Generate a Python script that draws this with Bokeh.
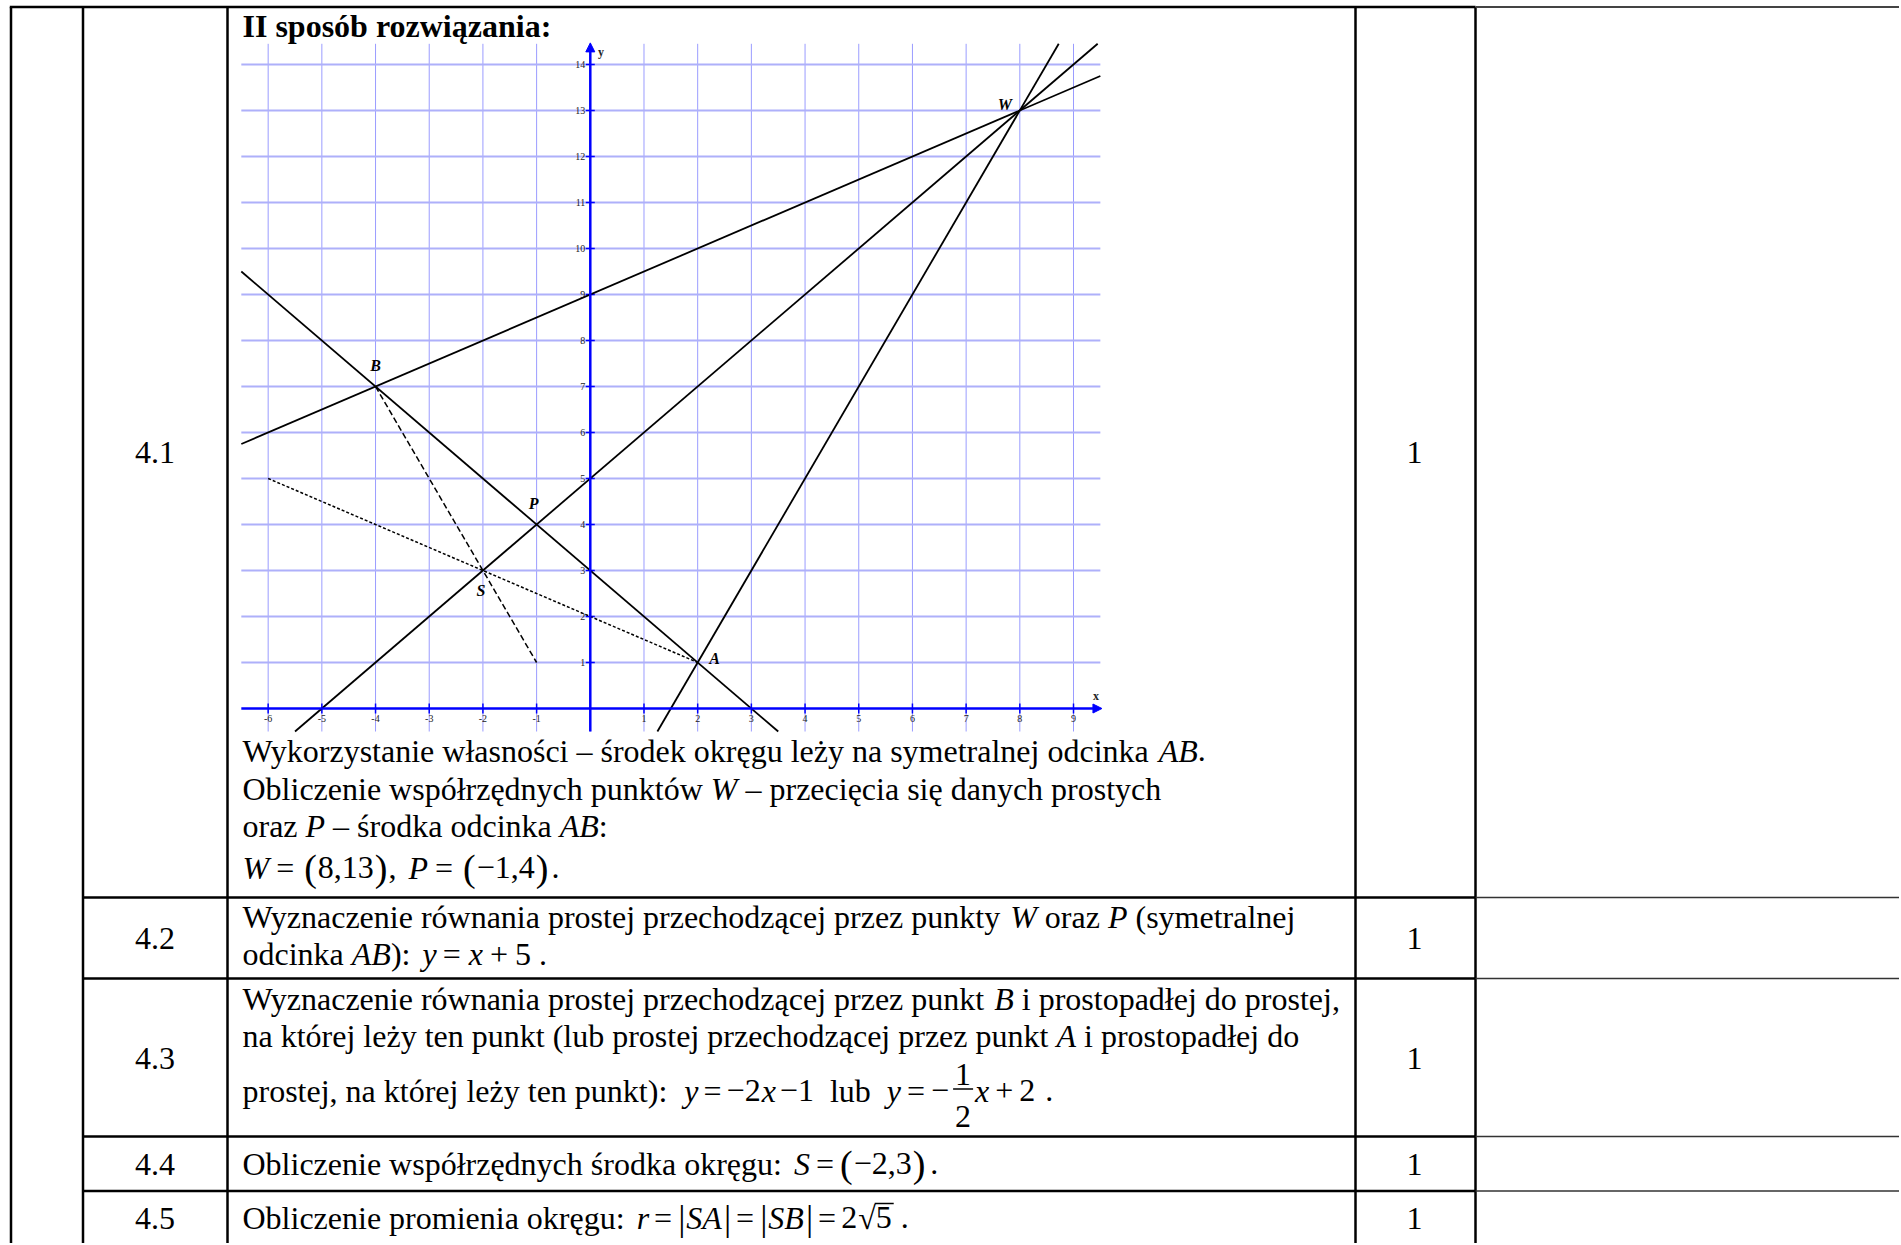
from bokeh.plotting import figure
from bokeh.models import Range1d, ColumnDataSource, Arrow, NormalHead
from bokeh.core.properties import value
from bokeh.embed import file_html
from bokeh.resources import INLINE
import math

# ---------------- chart data ----------------
grid_x = [-6, -5, -4, -3, -2, -1, 0, 1, 2, 3, 4, 5, 6, 7, 8, 9]
grid_y = [1, 2, 3, 4, 5, 6, 7, 8, 9, 10, 11, 12, 13, 14]
x_tick_values = [-6, -5, -4, -3, -2, -1, 1, 2, 3, 4, 5, 6, 7, 8, 9]
x_tick_labels = ["-6", "-5", "-4", "-3", "-2", "-1", "1", "2", "3", "4", "5", "6", "7", "8", "9"]
y_tick_values = [1, 2, 3, 4, 5, 6, 7, 8, 9, 10, 11, 12, 13, 14]
y_tick_labels = ["1", "2", "3", "4", "5", "6", "7", "8", "9", "10", "11", "12", "13", "14"]
point_names = ["A", "B", "P", "S", "W"]
point_x = [2, -4, -1, -2, 8]
point_y = [1, 7, 4, 3, 13]
line_slope = [0.5, 1.0, 2.0, -1.0]
line_intercept = [9.0, 5.0, -3.0, 3.0]
dashed_x = [-4, -1]
dashed_y = [7, 1]
dotted_x = [-6, 2]
dotted_y = [5, 1]
X_LIM = (-6.5, 9.5)
Y_LIM = (-0.5, 14.45)

# table content
row_ids = ["4.1", "4.2", "4.3", "4.4", "4.5"]
row_points = ["1", "1", "1", "1", "1"]

# ---------------- layout constants (page pixels) ----------------
W, H = 1899, 1243
PX0, PY0 = 0, 0
ORIGIN = (589.8, 708.0)
UNIT = (53.69, 46.0)
FONT = "Liberation Serif"
FS = 32
TEXT_SHIFT = -10

p = figure(width=W, height=H, x_range=Range1d(PX0, PX0 + W), y_range=Range1d(PY0 + H, PY0),
           x_axis_type=None, y_axis_type=None, toolbar_location=None, output_backend="svg",
           min_border=0, outline_line_color=None, title=None,
           background_fill_color="white", border_fill_color="white")
p.extra_x_ranges = {"m": Range1d((PX0 - ORIGIN[0]) / UNIT[0], (PX0 + W - ORIGIN[0]) / UNIT[0])}
p.extra_y_ranges = {"m": Range1d((ORIGIN[1] - (PY0 + H)) / UNIT[1], (ORIGIN[1] - PY0) / UNIT[1])}
M = dict(x_range_name="m", y_range_name="m")

# ---------------- chart ----------------
p.segment(x0=grid_x, y0=[Y_LIM[0]] * len(grid_x), x1=grid_x, y1=[Y_LIM[1]] * len(grid_x),
          line_color="#9a9cff", line_width=1, **M)
p.segment(x0=[X_LIM[0]] * len(grid_y), y0=grid_y, x1=[X_LIM[1]] * len(grid_y), y1=grid_y,
          line_color="#aeb0fa", line_width=2, **M)

p.add_layout(Arrow(end=NormalHead(size=9, fill_color="blue", line_color="blue"),
                   x_start=X_LIM[0], y_start=0, x_end=X_LIM[1] + 0.03, y_end=0,
                   line_color="blue", line_width=2.5, **M))
p.add_layout(Arrow(end=NormalHead(size=9, fill_color="blue", line_color="blue"),
                   x_start=0, y_start=Y_LIM[0], x_end=0, y_end=Y_LIM[1] + 0.02,
                   line_color="blue", line_width=2.5, **M))
p.scatter(x=x_tick_values, y=[0] * len(x_tick_values), marker="dash", size=10, angle=math.pi / 2,
          line_color="blue", line_width=1.5, **M)
p.scatter(x=[0] * len(y_tick_values), y=y_tick_values, marker="dash", size=9,
          line_color="blue", line_width=1.5, **M)
p.text(x=x_tick_values, y=[0] * len(x_tick_values), text=x_tick_labels, y_offset=10,
       text_align="center", text_baseline="middle", text_font=value(FONT),
       text_font_size="10px", text_color="#222222", **M)
p.text(x=[0] * len(y_tick_values), y=y_tick_values, text=y_tick_labels, x_offset=-5,
       text_align="right", text_baseline="middle", text_font=value(FONT),
       text_font_size="10px", text_color="#222222", **M)
p.text(x=[9.42, 0.2], y=[0.27, 14.27], text=["x", "y"], text_align="center",
       text_baseline="middle", text_font=value(FONT), text_font_size="12px",
       text_font_style="bold", text_color="#222222", **M)


def clip(m, c):
    xa, xb = (Y_LIM[0] - c) / m, (Y_LIM[1] - c) / m
    lo = max(X_LIM[0], min(xa, xb))
    hi = min(X_LIM[1], max(xa, xb))
    return lo, hi


x0s, y0s, x1s, y1s = [], [], [], []
for m, c in zip(line_slope, line_intercept):
    lo, hi = clip(m, c)
    x0s.append(lo); y0s.append(m * lo + c); x1s.append(hi); y1s.append(m * hi + c)
p.segment(x0=x0s, y0=y0s, x1=x1s, y1=y1s, line_color="black", line_width=1.8, **M)
p.line(x=dashed_x, y=dashed_y, line_color="black", line_width=1.5, line_dash="6 3", **M)
p.line(x=dotted_x, y=dotted_y, line_color="black", line_width=1.5, line_dash="3 2", **M)

label_dx = [17, 0, -3, -2, -15]
label_dy = [-4, -21, -21, 20, -6]
p.text(x=point_x, y=point_y, text=point_names, x_offset=label_dx, y_offset=label_dy,
       text_align="center", text_baseline="middle", text_font=value(FONT),
       text_font_size="16px", text_font_style="bold italic", text_color="black", **M)

# ---------------- table ----------------
BLACK_W = 2.5
vx = [10.5, 82.5, 227, 1355, 1475]
TOP = 6.5
BOTTOM = PY0 + H
p.segment(x0=vx, y0=[TOP] * len(vx), x1=vx, y1=[BOTTOM] * len(vx), line_color="black", line_width=BLACK_W)
p.segment(x0=[9.3], y0=[TOP], x1=[1475], y1=[TOP], line_color="black", line_width=BLACK_W)
p.segment(x0=[1475], y0=[TOP], x1=[PX0 + W], y1=[TOP], line_color="#444444", line_width=2)
hy = [897, 978, 1136, 1190.5]
p.segment(x0=[82.5] * 4, y0=hy, x1=[1475] * 4, y1=hy, line_color="black", line_width=BLACK_W)
p.segment(x0=[1475] * 4, y0=hy, x1=[PX0 + W] * 4, y1=hy, line_color="#333333", line_width=1.6)

# font metrics (Times-compatible, per 1000 em)
ROMAN = {' ': 250, 'a': 444, 'b': 500, 'c': 444, 'd': 500, 'e': 444, 'f': 333, 'g': 500, 'h': 500,
         'i': 278, 'j': 278, 'k': 500, 'l': 278, 'm': 778, 'n': 500, 'o': 500, 'p': 500, 'q': 500,
         'r': 333, 's': 389, 't': 278, 'u': 500, 'v': 500, 'w': 722, 'x': 500, 'y': 500, 'z': 444,
         'ą': 444, 'ć': 444, 'ę': 444, 'ł': 278, 'ń': 500, 'ó': 500, 'ś': 389, 'ź': 444, 'ż': 444,
         'O': 722, 'W': 944, 'S': 556, 'P': 556, 'A': 722, 'B': 667, '.': 250, ',': 250, ':': 278,
         '(': 333, ')': 333, '–': 500, '−': 564, '=': 564, '+': 564, '|': 200, '√': 549}
ITALIC = {'A': 611, 'B': 611, 'P': 611, 'W': 833, 'S': 500, 'r': 389, 'x': 444, 'y': 444}
BOLD = {'I': 389, ' ': 250, 's': 389, 'p': 556, 'o': 500, 'ó': 500, 'b': 556, 'r': 444, 'z': 444,
        'w': 722, 'i': 278, 'ą': 500, 'a': 500, 'n': 556, ':': 333}


def tw(s, style="normal", size=FS):
    tab = ROMAN if style == "normal" else (ITALIC if style == "italic" else BOLD)
    return sum(tab.get(ch, ROMAN.get(ch, 500)) for ch in s) * size / 1000.0


T = dict(x=[], y=[], text=[], style=[], size=[])
bars = dict(x0=[], y0=[], x1=[], y1=[])


def add(x, y, s, style="normal", size=FS):
    T["x"].append(x); T["y"].append(y + TEXT_SHIFT); T["text"].append(s)
    T["style"].append(style); T["size"].append(f"{size}px")


def lay(runs, x0, y):
    x = x0
    for r in runs:
        if r[0] == "FRAC":
            _, num, den, gap = r
            x += gap
            wn, wd = tw(num), tw(den)
            w = max(wn, wd) + 4
            add(x + (w - wn) / 2, y - 16, num)
            add(x + (w - wd) / 2, y + 26, den)
            bars["x0"].append(x); bars["x1"].append(x + w)
            bars["y0"].append(y - 11.5); bars["y1"].append(y - 11.5)
            x += w
        elif r[0] == "SQRT":
            _, rad, gap = r
            x += gap
            add(x, y, "√")
            x += tw("√")
            add(x, y, rad)
            wr = tw(rad)
            bars["x0"].append(x - 1); bars["x1"].append(x + wr + 2)
            bars["y0"].append(y - 24); bars["y1"].append(y - 24)
            x += wr
        else:
            text, style = r[0], r[1]
            gap = r[2] if len(r) > 2 else 0
            size = r[3] if len(r) > 3 else FS
            x += gap
            stripped = text.lstrip(" ")
            lead = len(text) - len(stripped)
            x += tw(" " * lead, "normal", size)
            add(x, y, stripped.rstrip(" "), style, size)
            x += tw(stripped, style, size)


R, I = "normal", "italic"
XT = 242
lay([("II sposób rozwiązania:", "bold")], XT, 35)

lines = [
    (760, [("Wykorzystanie własności – środek okręgu leży na symetralnej odcinka ", R), ("AB", I), (".", R)]),
    (798, [("Obliczenie współrzędnych punktów ", R), ("W", I), (" – przecięcia się danych prostych", R)]),
    (835, [("oraz ", R), ("P", I), (" – środka odcinka ", R), ("AB", I), (":", R)]),
    (877, [("W", I), ("=", R, 7), ("(", R, 10, 38), ("8,13", R, 1), (")", R, 1, 38), (",", R, 1),
           ("P", I, 12), ("=", R, 7), ("(", R, 10, 38), ("−1,4", R, 1), (")", R, 1, 38), (".", R, 3)]),
    (926, [("Wyznaczenie równania prostej przechodzącej przez punkty ", R), ("W", I), (" oraz ", R),
           ("P", I), (" (symetralnej", R)]),
    (963.5, [("odcinka ", R), ("AB", I), ("):", R), ("y", I, 12), ("=", R, 6), ("x", I, 8), ("+", R, 7),
             ("5", R, 7), (".", R, 8)]),
    (1008, [("Wyznaczenie równania prostej przechodzącej przez punkt ", R), ("B", I),
            (" i prostopadłej do prostej,", R)]),
    (1045.5, [("na której leży ten punkt (lub prostej przechodzącej przez punkt ", R), ("A", I),
              (" i prostopadłej do", R)]),
    (1100, [("prostej, na której leży ten punkt):", R), ("y", I, 17), ("=", R, 5), ("−2", R, 5),
            ("x", I, 1), ("−1", R, 4), ("lub", R, 16), ("y", I, 16), ("=", R, 6), ("−", R, 6),
            ("FRAC", "1", "2", 4), ("x", I, 2), ("+", R, 6), ("2", R, 6), (".", R, 10)]),
    (1173, [("Obliczenie współrzędnych środka okręgu:", R), ("S", I, 12), ("=", R, 6), ("(", R, 6, 38),
            ("−2,3", R, 1), (")", R, 1, 38), (".", R, 5)]),
    (1227, [("Obliczenie promienia okręgu:", R), ("r", I, 12), ("=", R, 5), ("|", R, 6, 36), ("SA", I, 1),
            ("|", R, 2, 36), ("=", R, 5), ("|", R, 6, 36), ("SB", I, 1), ("|", R, 2, 36), ("=", R, 5),
            ("2", R, 5), ("SQRT", "5", 1), (".", R, 9)]),
]
for yb, runs in lines:
    lay(runs, XT, yb)

row_base = [462, 948, 1067.5, 1174, 1228]
for rid, pt, yb in zip(row_ids, row_points, row_base):
    add(154.5 - tw(rid) / 2, yb, rid)
    add(1414 - tw(pt) / 2, yb, pt)

src = ColumnDataSource(T)
p.text(x="x", y="y", text="text", source=src, text_font=value(FONT), text_font_size="size",
       text_font_style="style", text_baseline="alphabetic", text_align="left", text_color="black")
p.segment(x0="x0", y0="y0", x1="x1", y1="y1", source=ColumnDataSource(bars),
          line_color="black", line_width=1.5)

open("out.html", "w").write(file_html(p, INLINE))
